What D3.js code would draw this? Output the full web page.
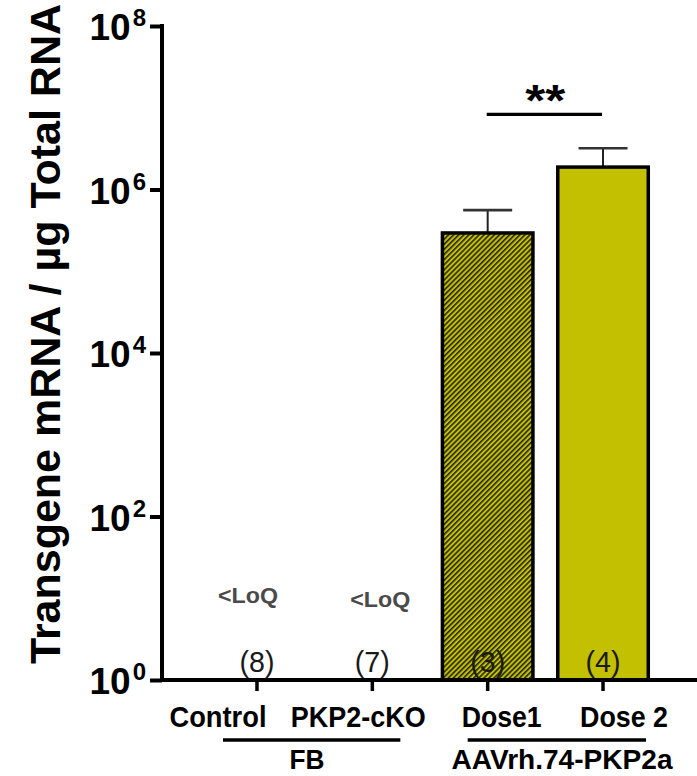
<!DOCTYPE html>
<html><head><meta charset="utf-8">
<script src="https://cdn.jsdelivr.net/npm/d3@7"></script>
<style>
html,body{margin:0;padding:0;background:#fff;}
svg{display:block;font-family:"Liberation Sans",Arial,Helvetica,sans-serif;}
</style></head>
<body><svg id="c" width="697" height="776"></svg>
<script>
// ---- data ----
const categories = ["Control", "PKP2-cKO", "Dose1", "Dose 2"];
const means = [null, null, 2.94e5, 1.88e6];
const errUpper = [null, null, 5.6e5, 3.2e6];
const nCounts = [8, 7, 3, 4];
const belowLoQ = [true, true, false, false];
const hatched = [false, false, true, false];
const yTicks = [1, 1e2, 1e4, 1e6, 1e8];
const yExponents = ["0", "2", "4", "6", "8"];
const groupLabels = ["FB", "AAVrh.74-PKP2a"];
const groupMembers = [["Control", "PKP2-cKO"], ["Dose1", "Dose 2"]];
const sigPair = ["Dose1", "Dose 2"];
const sigText = "**";
const sigLevel = 8.3e6;
const yTitle = "Transgene mRNA / µg Total RNA";

// ---- layout ----
const svg = d3.select("#c");
const axisX = 162, y0 = 680, yTop = 26;
const barColor = "#c2c000";

const y = d3.scaleLog().domain([1, 1e8]).range([y0, yTop]);
const x = d3.scaleBand().domain(categories).range([199.3, 660.7])
  .paddingInner(0.185).paddingOuter(0.0925);
const cx = c => x(c) + x.bandwidth() / 2;

// hatch pattern
const defs = svg.append("defs");
const pat = defs.append("pattern").attr("id", "hatch")
  .attr("patternUnits", "userSpaceOnUse").attr("width", 3.6).attr("height", 3.6)
  .attr("patternTransform", "rotate(45)");
pat.append("rect").attr("width", 3.6).attr("height", 3.6).attr("fill", barColor);
pat.append("line").attr("x1", 0.8).attr("y1", 0).attr("x2", 0.8).attr("y2", 3.6)
  .attr("stroke", "#111").attr("stroke-width", 1.4);

// bars
const barData = categories.map((c, i) => ({c, m: means[i], e: errUpper[i], h: hatched[i]}))
  .filter(d => d.m != null);

// error bars (behind)
const eb = svg.append("g");
barData.forEach(d => {
  eb.append("line").attr("x1", cx(d.c)).attr("x2", cx(d.c))
    .attr("y1", y(d.m)).attr("y2", y(d.e)).attr("stroke", "#222").attr("stroke-width", 2);
  eb.append("line").attr("x1", cx(d.c) - 24.5).attr("x2", cx(d.c) + 24.5)
    .attr("y1", y(d.e)).attr("y2", y(d.e)).attr("stroke", "#333").attr("stroke-width", 2.6);
});

svg.append("g").selectAll("rect").data(barData).join("rect")
  .attr("x", d => x(d.c) + 1.75)
  .attr("y", d => y(d.m))
  .attr("width", x.bandwidth() - 3.5)
  .attr("height", d => y0 - y(d.m))
  .attr("fill", d => d.h ? "url(#hatch)" : barColor)
  .attr("stroke", "#000").attr("stroke-width", 3.5);

// y axis
const ya = svg.append("g").attr("transform", `translate(${axisX},0)`)
  .call(d3.axisLeft(y).tickValues(yTicks).tickSize(12).tickSizeOuter(0).tickFormat(""));
ya.selectAll("path,line").attr("stroke", "#000").attr("stroke-width", 4);
ya.select(".domain").attr("d", `M0,${yTop - 2}V${y0}`);

yTicks.forEach((t, i) => {
  const tx = svg.append("text").attr("x", 146).attr("y", y(t) + 14)
    .attr("text-anchor", "end").attr("font-weight", "bold").attr("fill", "#000");
  tx.append("tspan").attr("font-size", 37).text("10");
  tx.append("tspan").attr("font-size", 24).attr("dy", -14).attr("dx", 2).text(yExponents[i]);
});

// x axis
svg.append("line").attr("x1", axisX - 2).attr("x2", 697).attr("y1", y0).attr("y2", y0)
  .attr("stroke", "#000").attr("stroke-width", 4);
const xa = svg.append("g").attr("transform", `translate(0,${y0})`)
  .call(d3.axisBottom(x).tickSize(11).tickSizeOuter(0).tickFormat(""));
xa.select(".domain").remove();
xa.selectAll("line").attr("stroke", "#000").attr("stroke-width", 3.5);

// category labels
const labelOffsets = [-39, -14, 14, 21];
const labelWidths = [97, 135, 80, 88];
categories.forEach((c, i) => {
  svg.append("text").attr("x", cx(c) + labelOffsets[i]).attr("y", 727)
    .attr("text-anchor", "middle").attr("font-weight", "bold").attr("font-size", 30)
    .attr("textLength", labelWidths[i]).attr("lengthAdjust", "spacingAndGlyphs")
    .text(c);
});

// group lines & labels
const groupSpans = [[-34, 28], [-20, 43]];
const groupLabelX = [307, 562];
const groupLabelW = [35, 221];
groupLabels.forEach((g, i) => {
  const a = cx(groupMembers[i][0]) + groupSpans[i][0];
  const b = cx(groupMembers[i][1]) + groupSpans[i][1];
  svg.append("line").attr("x1", a).attr("x2", b).attr("y1", 740).attr("y2", 740)
    .attr("stroke", "#000").attr("stroke-width", 3.5);
  svg.append("text").attr("x", groupLabelX[i]).attr("y", 769)
    .attr("text-anchor", "middle").attr("font-weight", "bold").attr("font-size", 28)
    .attr("textLength", groupLabelW[i]).attr("lengthAdjust", "spacingAndGlyphs")
    .text(g);
});

// n labels
categories.forEach((c, i) => {
  svg.append("text").attr("x", cx(c)).attr("y", 672)
    .attr("text-anchor", "middle").attr("font-size", 30).attr("fill", "#1a1a1a")
    .attr("textLength", 35).attr("lengthAdjust", "spacingAndGlyphs")
    .text(`(${nCounts[i]})`);
});

// <LoQ labels
const loqPos = [[-9, 603], [8, 607]];
categories.forEach((c, i) => {
  if (!belowLoQ[i]) return;
  svg.append("text").attr("x", cx(c) + loqPos[i][0]).attr("y", loqPos[i][1])
    .attr("text-anchor", "middle").attr("font-weight", "bold").attr("font-size", 22)
    .attr("fill", "#4a4a4a").attr("textLength", 60).attr("lengthAdjust", "spacingAndGlyphs")
    .text("<LoQ");
});

// significance
const sy = y(sigLevel);
svg.append("line").attr("x1", cx(sigPair[0]) - 1).attr("x2", cx(sigPair[1]) - 1)
  .attr("y1", sy).attr("y2", sy).attr("stroke", "#000").attr("stroke-width", 3.3);
svg.append("text").attr("x", (cx(sigPair[0]) + cx(sigPair[1])) / 2).attr("y", sy + 2)
  .attr("text-anchor", "middle").attr("font-weight", "bold").attr("font-size", 44)
  .attr("textLength", 40).attr("lengthAdjust", "spacingAndGlyphs")
  .text(sigText);

// y title
svg.append("text").attr("transform", `translate(60,334) rotate(-90)`)
  .attr("text-anchor", "middle").attr("font-weight", "bold").attr("font-size", 42)
  .attr("textLength", 660).attr("lengthAdjust", "spacingAndGlyphs")
  .text(yTitle);
</script></body></html>
